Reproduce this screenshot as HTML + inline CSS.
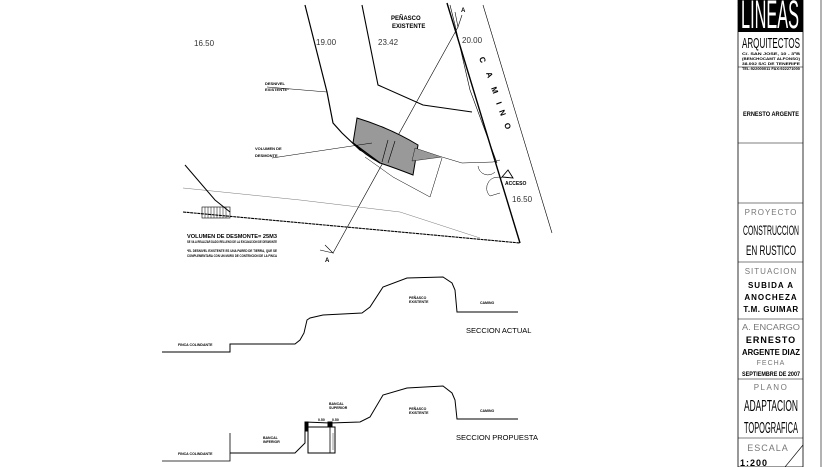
<!DOCTYPE html>
<html><head><meta charset="utf-8"><style>
html,body{margin:0;padding:0;background:#fff;}
svg{display:block;font-family:"Liberation Sans",sans-serif;}
.b{font-weight:bold;font-size:4px;}
.n{font-size:8px;fill:#333;}
.tb{font-family:"Liberation Sans Narrow","Liberation Sans",sans-serif;}
</style></head><body>
<svg width="835" height="467" viewBox="0 0 835 467" xmlns="http://www.w3.org/2000/svg">
<rect width="835" height="467" fill="#fff"/>
<g fill="none" stroke="#000">
<polyline points="305,5 327,92 333,123 342,133 360,150 380,160 410,173" stroke-width="1.2"/>
<polyline points="362,5 378,85 423,105 472,112" stroke-width="1.1"/>
<line x1="447" y1="3" x2="520" y2="243" stroke-width="1.4"/>
<polyline points="450,5 455,25 470,90 497,163" stroke-width="0.6"/>
<line x1="483" y1="5" x2="552" y2="233" stroke-width="0.6"/>
<line x1="458" y1="27" x2="333" y2="253" stroke-width="0.6"/>
<line x1="183" y1="212" x2="520" y2="243" stroke-width="1.1" stroke-dasharray="3,0.6"/>
<polyline points="183,188 300,200 400,212 480,238" stroke-width="0.4" stroke="#555"/>
<polyline points="185,165 215,200 230,212" stroke-width="1"/>
<rect x="202" y="207" width="28" height="11" stroke-width="0.6"/>
<path d="M205,207v11M208,207v11M211,207v11M214,207v11M217,207v11M220,207v11M223,207v11M226,207v11" stroke-width="0.5"/>
<path d="M357,118 Q390,128 418,145 L413,175 Q395,168 380,163 Q365,155 353,143 Z" fill="#999" stroke-width="1"/>
<polygon points="415,148 442,157 412,161" fill="#999" stroke-width="0.4"/>
<polyline points="380,163 353,143" stroke-width="1.4"/>
<line x1="388" y1="140" x2="382" y2="162" stroke-width="0.6"/>
<line x1="395" y1="141" x2="388" y2="163" stroke-width="0.6"/>
<polyline points="442,157 462,163 493,162 500,160" stroke-width="0.5"/>
<polyline points="365,157 393,177 430,197 442,158" stroke-width="0.5"/>
<path d="M478,166 A10,10 0 0 0 495,172" stroke-width="0.5"/>
<path d="M502,178 A11,11 0 0 0 490,196 L500,193" stroke-width="0.5"/>
<polygon points="502,177 508,170 513,178" stroke-width="0.9"/>
<polyline points="455,12 458,27 462,15" stroke-width="0.6"/>
<polyline points="325,245 333,253 320,250" stroke-width="0.6"/>
<line x1="267" y1="87" x2="327" y2="92" stroke-width="0.5"/>
<line x1="272" y1="158" x2="372" y2="143" stroke-width="0.5"/>
<polyline points="162,352 230,352 230,344 295,344 300,340 304,333 307,320 310,318 323,315 362,313 370,307 383,287 407,278 443,277 452,283 455,290 457,312 518,312" stroke-width="1"/>
<polyline points="162,461 230,461 230,433" stroke-width="0.8"/>
<polyline points="230,453 295,453 300,448 305,443 305,422 330,423 360,422 370,417 383,395 407,388 443,386 452,393 455,400 457,419 518,419" stroke-width="1"/>
<rect x="308" y="427" width="27" height="26" stroke-width="1"/>
<line x1="330" y1="423" x2="330" y2="453" stroke-width="0.8"/>
<rect x="305" y="422" width="3" height="9" fill="#000"/>
<rect x="328" y="422" width="4" height="5" fill="#000"/>
<line x1="333" y1="433" x2="333" y2="450" stroke-width="0.4"/>
<rect x="738" y="0" width="65" height="467" stroke-width="0.8"/>
<line x1="821" y1="0" x2="821" y2="467" stroke="#999" stroke-width="1.5"/>
<line x1="738" y1="67" x2="803" y2="67" stroke-width="0.6"/>
<line x1="738" y1="143" x2="803" y2="143" stroke-width="0.6"/>
<line x1="738" y1="203" x2="803" y2="203" stroke-width="0.6"/>
<line x1="738" y1="262" x2="803" y2="262" stroke-width="0.6"/>
<line x1="738" y1="319" x2="803" y2="319" stroke-width="0.6"/>
<line x1="738" y1="379" x2="803" y2="379" stroke-width="0.6"/>
<line x1="738" y1="438" x2="803" y2="438" stroke-width="0.6"/>
<line x1="785" y1="467" x2="803" y2="445" stroke-width="0.6"/>
</g>
<rect x="738" y="0" width="65" height="32" fill="#000"/>
<text x="770" y="28" font-size="40" fill="#fff" text-anchor="middle" class="tb" textLength="58" lengthAdjust="spacingAndGlyphs">LINEAS</text>
<g text-anchor="middle" class="tb">
<text x="771" y="48" font-size="15" textLength="58" lengthAdjust="spacingAndGlyphs">ARQUITECTOS</text>
<text x="771" y="55" class="b" textLength="58" lengthAdjust="spacingAndGlyphs">C/. SAN JOSE, 10 - 3ºB</text>
<text x="771" y="60" class="b" textLength="58" lengthAdjust="spacingAndGlyphs">(BENCHOCAMT ALFONSO)</text>
<text x="771" y="65" class="b" textLength="58" lengthAdjust="spacingAndGlyphs">38.002 S/C DE TENERIFE</text>
<text x="771" y="70" class="b" textLength="58" lengthAdjust="spacingAndGlyphs">TEL:922000011 FAX:922271000</text>
<text x="771" y="116" font-size="6" font-weight="bold" textLength="56" lengthAdjust="spacingAndGlyphs">ERNESTO ARGENTE</text>
<text x="771" y="215" font-size="8" fill="#777" letter-spacing="1">PROYECTO</text>
<text x="771" y="235" font-size="14" textLength="56" lengthAdjust="spacingAndGlyphs">CONSTRUCCION</text>
<text x="771" y="255" font-size="14" textLength="50" lengthAdjust="spacingAndGlyphs">EN RUSTICO</text>
<text x="771" y="274" font-size="8" fill="#777" letter-spacing="1">SITUACION</text>
<text x="771" y="288" font-size="8" font-weight="bold" letter-spacing="1">SUBIDA A</text>
<text x="771" y="300" font-size="8" font-weight="bold" letter-spacing="1">ANOCHEZA</text>
<text x="771" y="312" font-size="8" font-weight="bold" letter-spacing="0.5">T.M. GUIMAR</text>
<text x="771" y="330" font-size="8" fill="#777" textLength="58" lengthAdjust="spacingAndGlyphs">A. ENCARGO</text>
<text x="771" y="343" font-size="9" font-weight="bold" letter-spacing="1">ERNESTO</text>
<text x="771" y="355" font-size="8" font-weight="bold" textLength="58" lengthAdjust="spacingAndGlyphs">ARGENTE DIAZ</text>
<text x="771" y="365" font-size="7" fill="#777" letter-spacing="1">FECHA</text>
<text x="771" y="376" font-size="6" font-weight="bold" textLength="58" lengthAdjust="spacingAndGlyphs">SEPTIEMBRE DE 2007</text>
<text x="771" y="390" font-size="8" fill="#777" letter-spacing="1.5">PLANO</text>
<text x="771" y="411" font-size="16" textLength="54" lengthAdjust="spacingAndGlyphs">ADAPTACION</text>
<text x="771" y="433" font-size="16" textLength="54" lengthAdjust="spacingAndGlyphs">TOPOGRAFICA</text>
<text x="768" y="451" font-size="9" fill="#777" letter-spacing="1">ESCALA</text>
</g>
<text x="740" y="466" font-size="9" font-weight="bold" letter-spacing="1">1:200</text>
<text x="194" y="46" class="n">16.50</text>
<text x="316" y="45" class="n">19.00</text>
<text x="378" y="45" class="n">23.42</text>
<text x="462" y="43" class="n">20.00</text>
<text x="512" y="202" class="n">16.50</text>
<text x="391" y="20" font-size="6" font-weight="bold">PEÑASCO</text>
<text x="392" y="28" font-size="6" font-weight="bold">EXISTENTE</text>
<g font-size="8" font-weight="bold">
<text x="479" y="58" transform="rotate(70 479 58)">C</text>
<text x="486" y="73" transform="rotate(70 486 73)">A</text>
<text x="491" y="88" transform="rotate(70 491 88)">M</text>
<text x="496" y="103" transform="rotate(70 496 103)">I</text>
<text x="499" y="111" transform="rotate(70 499 111)">N</text>
<text x="504" y="124" transform="rotate(70 504 124)">O</text>
</g>
<text x="461" y="12" font-size="6" font-weight="bold">A</text>
<text x="325" y="262" font-size="6" font-weight="bold">A</text>
<text x="265" y="85" class="b">DESNIVEL</text>
<text x="265" y="91" class="b">EXISTENTE*</text>
<text x="255" y="150" class="b">VOLUMEN DE</text>
<text x="255" y="157" class="b">DESMONTE</text>
<text x="505" y="185" font-size="5" font-weight="bold">ACCESO</text>
<text x="187" y="238" font-size="5" font-weight="bold" textLength="90" lengthAdjust="spacingAndGlyphs">VOLUMEN DE DESMONTE= 25M3</text>
<text x="187" y="243" font-size="4" font-weight="bold" textLength="90" lengthAdjust="spacingAndGlyphs">SE VA A REALIZAR DADO RELLENO DE LA EXCAVACION DE DESMONTE</text>
<text x="187" y="252" font-size="4" font-weight="bold" textLength="90" lengthAdjust="spacingAndGlyphs">*EL DESNIVEL EXISTENTE ES UNA PARED DE TIERRA, QUE SE</text>
<text x="187" y="257" font-size="4" font-weight="bold" textLength="90" lengthAdjust="spacingAndGlyphs">COMPLEMENTARA CON UN MURO DE CONTENCION DE LA FINCA</text>
<text x="466" y="333" font-size="7.5">SECCION ACTUAL</text>
<text x="456" y="440" font-size="7.5">SECCION PROPUESTA</text>
<g font-size="3.5" font-weight="bold">
<text x="178" y="346">FINCA COLINDANTE</text>
<text x="178" y="455">FINCA COLINDANTE</text>
<text x="409" y="299">PEÑASCO</text><text x="409" y="303">EXISTENTE</text>
<text x="409" y="410">PEÑASCO</text><text x="409" y="414">EXISTENTE</text>
<text x="480" y="304">CAMINO</text>
<text x="480" y="412">CAMINO</text>
<text x="329" y="405">BANCAL</text><text x="329" y="409">SUPERIOR</text>
<text x="263" y="439">BANCAL</text><text x="263" y="443">INFERIOR</text>
<text x="318" y="421">0.50</text><text x="332" y="421">0.50</text>
</g>
</svg>
</body></html>
